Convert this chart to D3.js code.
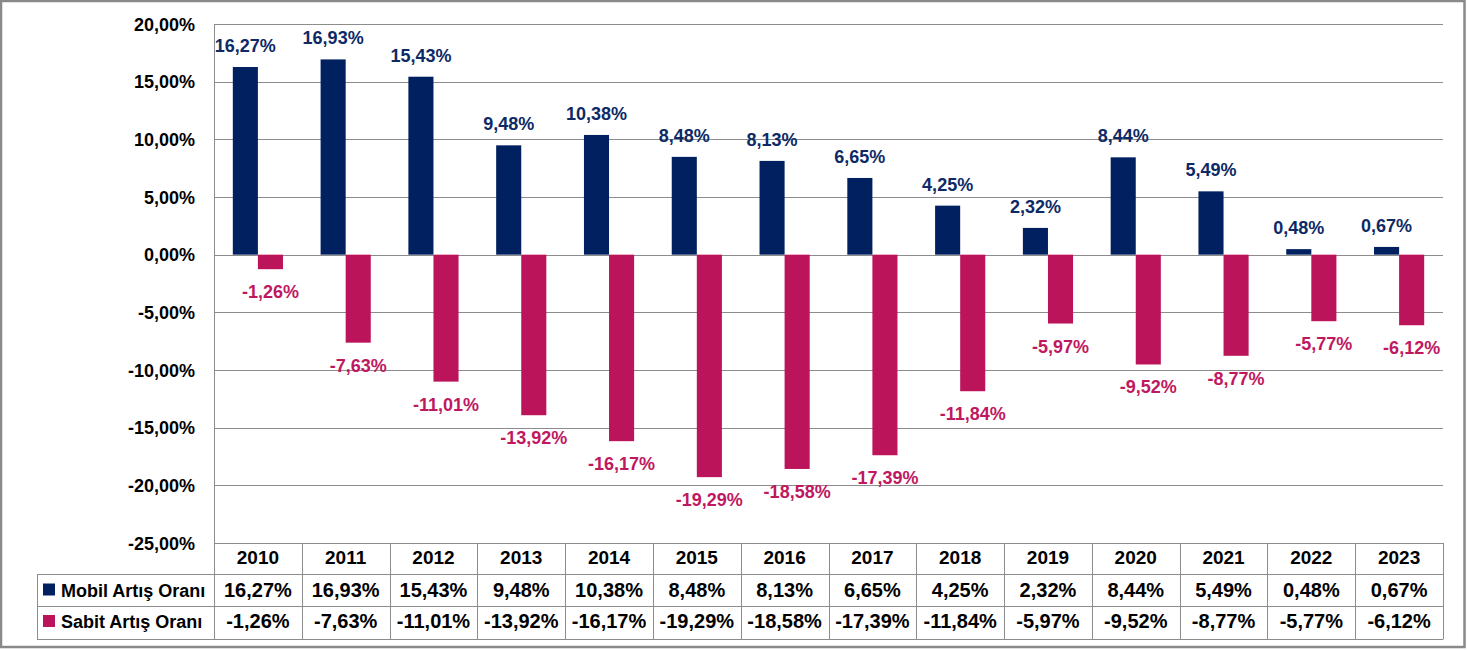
<!DOCTYPE html>
<html>
<head>
<meta charset="utf-8">
<script src="https://cdn.jsdelivr.net/npm/d3@7"></script>
<style>
  html, body { margin: 0; padding: 0; background: #fff; }
  svg { display: block; font-family: "Liberation Sans", Arial, sans-serif; font-weight: bold; }
</style>
</head>
<body>
<svg id="chart" width="1467" height="650"></svg>
<script>
const years = ["2010","2011","2012","2013","2014","2015","2016","2017","2018","2019","2020","2021","2022","2023"];
const seriesNames = ["Mobil Artış Oranı", "Sabit Artış Oranı"];
const mobil = [16.27, 16.93, 15.43, 9.48, 10.38, 8.48, 8.13, 6.65, 4.25, 2.32, 8.44, 5.49, 0.48, 0.67];
const sabit = [-1.26, -7.63, -11.01, -13.92, -16.17, -19.29, -18.58, -17.39, -11.84, -5.97, -9.52, -8.77, -5.77, -6.12];
const yTicks = [20, 15, 10, 5, 0, -5, -10, -15, -20, -25];

const colors = ["#002060", "#BC145B"];
const labelColors = ["#0E2A66", "#C0185F"];
const gridColor = "#8C8C8C";

const locale = d3.formatLocale({ decimal: ",", thousands: ".", grouping: [3], currency: ["", ""], minus: "-" });
const fmt2 = locale.format(".2f");
const fmt = v => fmt2(v) + "%";

const svg = d3.select("#chart");

// outer border
svg.append("rect").attr("x", 1).attr("y", 1).attr("width", 1463.5).attr("height", 646)
  .attr("fill", "#fff").attr("stroke", "#898989").attr("stroke-width", 2.5);

const pLeft = 214, pRight = 1443, pTop = 24, pBottom = 543;
const y = d3.scaleLinear().domain([-25, 20]).range([pBottom, pTop]);
const x0 = d3.scaleBand().domain(years).range([pLeft, pRight]).paddingInner(0).paddingOuter(0);
const x1 = d3.scaleBand().domain(seriesNames).range([0, x0.bandwidth()]).paddingInner(0).paddingOuter(0.75);

// gridlines
svg.append("g").selectAll("line").data(yTicks).join("line")
  .attr("x1", pLeft).attr("x2", pRight)
  .attr("y1", d => Math.round(y(d)) + 0.5).attr("y2", d => Math.round(y(d)) + 0.5)
  .attr("stroke", gridColor).attr("stroke-width", 1);

// y axis line
svg.append("line").attr("x1", pLeft + 0.5).attr("x2", pLeft + 0.5).attr("y1", pTop).attr("y2", pBottom)
  .attr("stroke", gridColor);

// y axis labels
svg.append("g").selectAll("text").data(yTicks).join("text")
  .attr("x", 195).attr("y", d => y(d) + 6.5)
  .attr("text-anchor", "end").attr("font-size", 18).attr("fill", "#000")
  .text(d => fmt(d));

const data = years.map((yr, i) => ({ year: yr, vals: [mobil[i], sabit[i]] }));

// bars
const groups = svg.append("g").selectAll("g").data(data).join("g")
  .attr("transform", d => `translate(${x0(d.year)},0)`);

groups.selectAll("rect").data(d => d.vals.map((v, j) => ({ v, s: seriesNames[j], j }))).join("rect")
  .attr("x", d => x1(d.s)).attr("width", x1.bandwidth())
  .attr("y", d => y(Math.max(0, d.v))).attr("height", d => Math.abs(y(d.v) - y(0)))
  .attr("fill", d => colors[d.j]);

// data labels
groups.selectAll("text").data(d => d.vals.map((v, j) => ({ v, s: seriesNames[j], j }))).join("text")
  .attr("x", d => x1(d.s) + x1.bandwidth() / 2)
  .attr("y", d => d.v >= 0 ? y(d.v) - 15 : y(d.v) + 29)
  .attr("text-anchor", "middle").attr("font-size", 18)
  .attr("fill", d => labelColors[d.j])
  .text(d => fmt(d.v));

// data table
const tLeft = 37;
const tg = svg.append("g");
[574, 606, 639].forEach(yy => {
  tg.append("line").attr("x1", tLeft).attr("x2", pRight).attr("y1", yy + 0.5).attr("y2", yy + 0.5).attr("stroke", gridColor);
});
const colEdges = years.map(yr => x0(yr)).concat([pRight]);
tg.selectAll("line.v").data(colEdges).join("line").attr("class", "v")
  .attr("x1", d => Math.round(d) + 0.5).attr("x2", d => Math.round(d) + 0.5)
  .attr("y1", 543).attr("y2", 639.5).attr("stroke", gridColor);
tg.append("line").attr("x1", tLeft + 0.5).attr("x2", tLeft + 0.5).attr("y1", 574).attr("y2", 639.5).attr("stroke", gridColor);

tg.selectAll("text.yr").data(years).join("text").attr("class", "yr")
  .attr("x", d => x0(d) + x0.bandwidth() / 2).attr("y", 564)
  .attr("text-anchor", "middle").attr("font-size", 19).attr("fill", "#000").text(d => d);

const rows = [mobil, sabit];
const rowBase = [596.5, 628];
rows.forEach((arr, r) => {
  tg.append("rect").attr("x", 43).attr("y", rowBase[r] - 13).attr("width", 12).attr("height", 12).attr("fill", colors[r]);
  tg.append("text").attr("x", 61).attr("y", rowBase[r]).attr("font-size", 18).attr("fill", "#000").text(seriesNames[r]);
  tg.selectAll("text.r" + r).data(arr).join("text").attr("class", "r" + r)
    .attr("x", (d, i) => x0(years[i]) + x0.bandwidth() / 2).attr("y", rowBase[r])
    .attr("text-anchor", "middle").attr("font-size", 20).attr("fill", "#000").text(d => fmt(d));
});
</script>
</body>
</html>
